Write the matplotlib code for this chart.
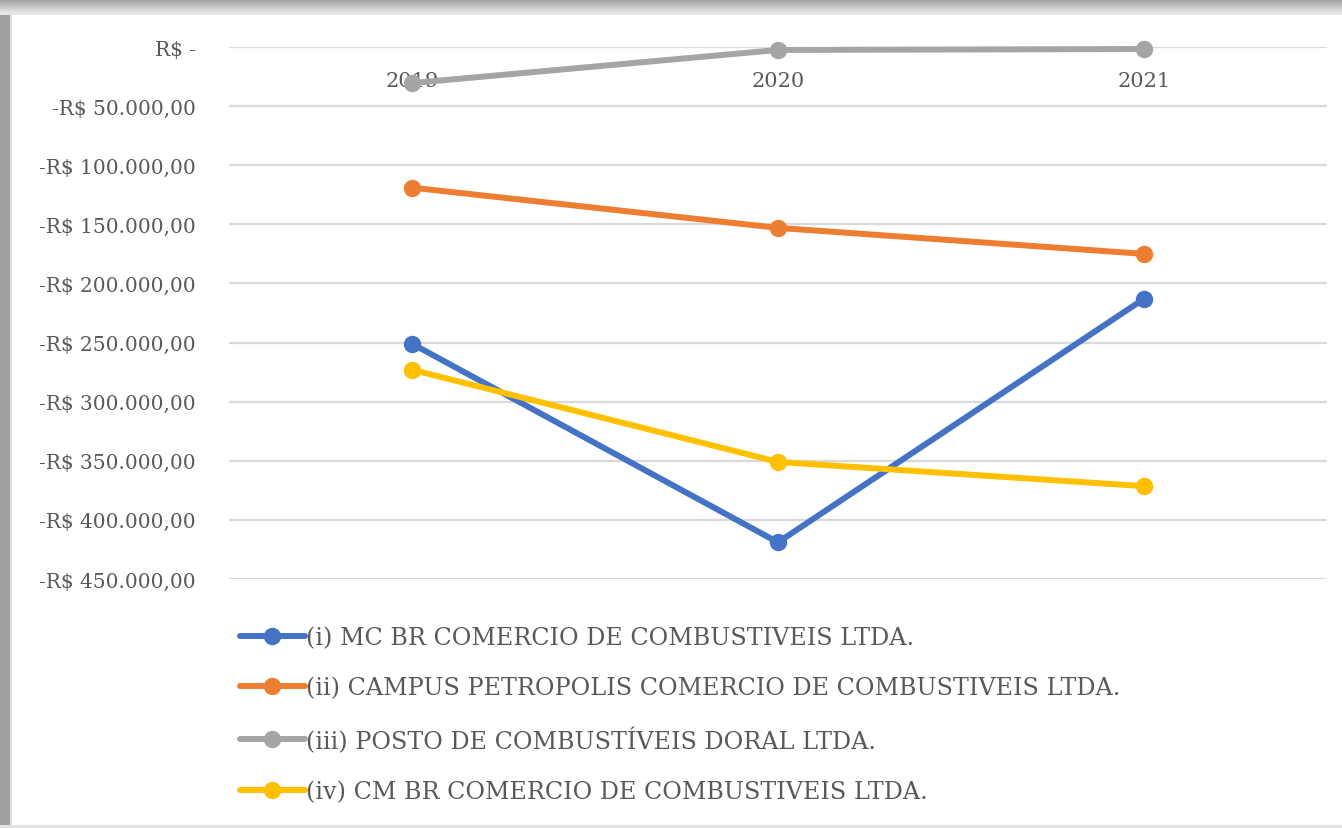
import matplotlib
matplotlib.use("Agg")
import numpy as np
from matplotlib import pyplot as plt
from matplotlib.patches import Rectangle
from matplotlib.transforms import blended_transform_factory

# data
years = ["2019", "2020", "2021"]
mc_br = [-251000, -419000, -213000]
campus = [-119000, -153000, -175000]
doral = [-30500, -2500, -1700]
cm_br = [-273000, -351000, -371500]

series_labels = [
    "(i) MC BR COMERCIO DE COMBUSTIVEIS LTDA.",
    "(ii) CAMPUS PETROPOLIS COMERCIO DE COMBUSTIVEIS LTDA.",
    "(iii) POSTO DE COMBUSTÍVEIS DORAL LTDA.",
    "(iv) CM BR COMERCIO DE COMBUSTIVEIS LTDA.",
]
series_values = [mc_br, campus, doral, cm_br]
colors = ["#4472C4", "#ED7D31", "#A5A5A5", "#FFC000"]
y_ticks = list(range(0, -450001, -50000))

W, H = 1342, 829
plt.rcParams["font.family"] = ["DejaVu Serif"]
text_col = "#595959"
fs = 14.5
leg_fs = 17.2


def brl(v):
    if v == 0:
        return "R$ -"
    s = f"{abs(v):,.2f}".replace(",", "X").replace(".", ",").replace("X", ".")
    return f"-R$ {s}"


fig = plt.figure(figsize=(W / 100, H / 100), dpi=100)
fig.patch.set_facecolor("white")

# spreadsheet-ish frame around the chart
px = lambda x0, y0, w, h, c: fig.patches.append(
    Rectangle((x0 / W, 1 - (y0 + h) / H), w / W, h / H, transform=fig.transFigure,
              facecolor=c, edgecolor="none", zorder=0))
px(0, 0, 10, H, "#a0a0a0")
px(10, 0, 2, H, "#e3e3e3")
for i, c in enumerate(np.linspace(0.62, 0.9, 14)):
    px(0, i, W, 1, str(c))
px(0, 14, W, 2, "#e6e6e6")
px(0, 826, W, 3, "#e3e3e3")

left, right, top, bottom = 229, 1327, 48, 580
ax = fig.add_axes([left / W, 1 - bottom / H, (right - left) / W, (bottom - top) / H])
ax.set_facecolor("none")

x = np.arange(len(years))
for vals, col in zip(series_values, colors):
    ax.plot(x, vals, color=col, lw=4.3, marker="o", markersize=11.5,
            solid_capstyle="round", clip_on=False, zorder=3)

ax.set_xlim(-0.5, len(years) - 0.5)
ax.set_ylim(-450000, 0)
ax.set_yticks(y_ticks)
ax.set_yticklabels([brl(v) for v in y_ticks], fontsize=fs, color=text_col)
ax.tick_params(axis="y", length=0, pad=24)
ax.set_xticks([])
ax.grid(axis="y", color="#d9d9d9", lw=1.6)
ax.set_axisbelow(True)
for s in ax.spines.values():
    s.set_visible(False)

# category labels sit just under the zero line
tr = blended_transform_factory(ax.transData, ax.transAxes)
for xi, yr in zip(x, years):
    ax.text(xi, 1 - (82 - top) / (bottom - top), yr, transform=tr, ha="center",
            va="center", fontsize=fs + 0.5, color=text_col, zorder=2)

handles = ax.get_lines()
fig.legend(handles, series_labels, loc="upper left",
           bbox_to_anchor=(240 / W, 1 - 627 / H), frameon=False, fontsize=leg_fs,
           handlelength=2.72, handletextpad=0.05, labelspacing=1.14,
           labelcolor=text_col, borderaxespad=0, borderpad=0)

fig.savefig("out.png", dpi=100)
